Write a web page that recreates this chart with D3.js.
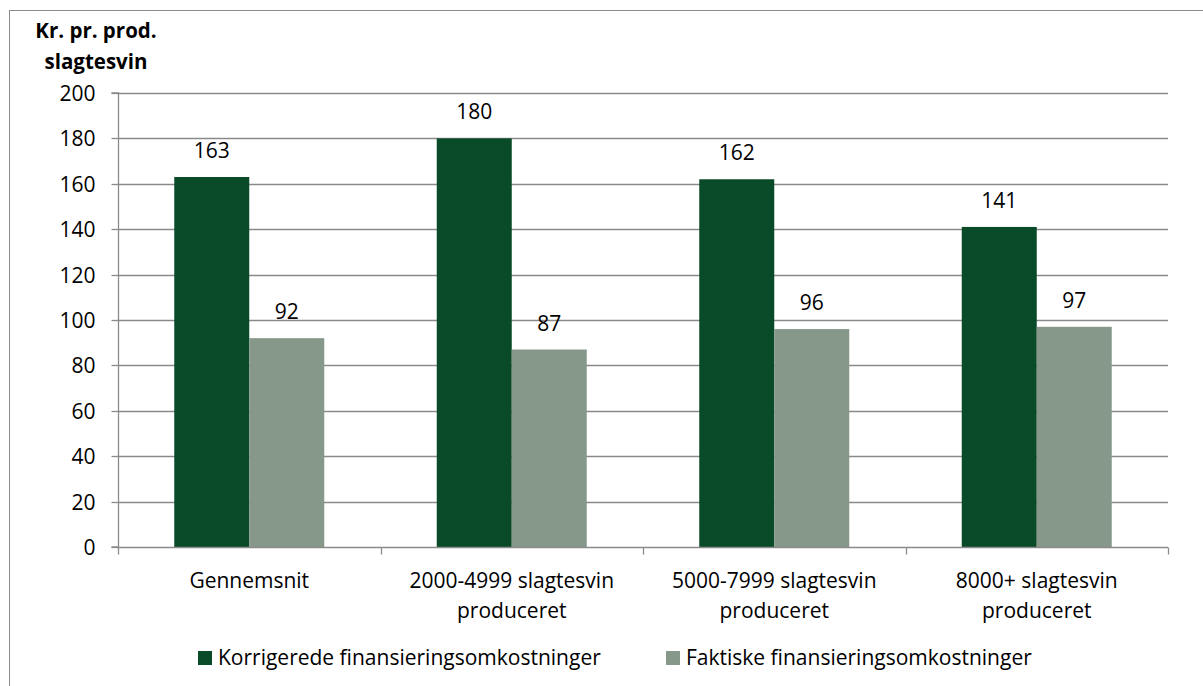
<!DOCTYPE html>
<html><head><meta charset="utf-8">
<script src="https://cdn.jsdelivr.net/npm/d3@7"></script>
<style>body{margin:0;background:#fff}svg{display:block}text{font-family:"Open Sans",Lato,sans-serif;fill:#000}</style>
</head><body>
<svg id="c" width="1203" height="686"></svg>
<script>
const categories = [["Gennemsnit"], ["2000-4999 slagtesvin", "produceret"], ["5000-7999 slagtesvin", "produceret"], ["8000+ slagtesvin", "produceret"]];
const seriesNames = ["Korrigerede finansieringsomkostninger", "Faktiske finansieringsomkostninger"];
const korrigerede = [163, 180, 162, 141];
const faktiske = [92, 87, 96, 97];
const yTicks = [0, 20, 40, 60, 80, 100, 120, 140, 160, 180, 200];
const colors = ["#094b28", "#869889"];

const FS = "21px";
const svg = d3.select("#c");
const m = {l:118, r:1168, t:93, b:547};
svg.append("rect").attr("x",9.5).attr("y",10.5).attr("width",1300).attr("height",800)
  .attr("fill","none").attr("stroke","#8c8c8c").attr("stroke-width",1);

const y = d3.scaleLinear().domain([0,200]).range([m.b,m.t]);
const x0 = d3.scaleBand().domain(d3.range(categories.length)).range([m.l,m.r]).paddingInner(0).paddingOuter(0);
const x1 = d3.scaleBand().domain([0,1]).range([0,x0.bandwidth()]).paddingOuter(0.75).paddingInner(0);

// gridlines
svg.append("g").selectAll("line").data(yTicks.filter(d=>d>0)).join("line")
  .attr("x1",m.l).attr("x2",m.r).attr("y1",d=>Math.round(y(d))+0.5).attr("y2",d=>Math.round(y(d))+0.5)
  .attr("stroke","#8a8a8a").attr("stroke-width",1.3);

// y axis
const ya = svg.append("g").attr("transform",`translate(${m.l+0.5},0)`)
  .call(d3.axisLeft(y).tickValues(yTicks).tickSize(7).tickPadding(16));
ya.select(".domain").attr("stroke","#8a8a8a").attr("stroke-width",1.3).attr("d",`M-7,${m.b}H0V${m.t}H-7`);
ya.selectAll(".tick line").attr("stroke","#8a8a8a").attr("stroke-width",1.3);
ya.selectAll(".tick text").style("font-size",FS).attr("fill","#000").attr("dy","0.35em");
ya.selectAll(".tick").attr("transform",d=>`translate(0,${Math.round(y(d))+0.5})`);

// bars
const series = [korrigerede, faktiske];
series.forEach((vals,si)=>{
  svg.append("g").selectAll("rect").data(vals).join("rect")
    .attr("x",(d,i)=>x0(i)+x1(si)).attr("width",x1.bandwidth())
    .attr("y",d=>y(d)).attr("height",d=>m.b-y(d)).attr("fill",colors[si]);
  svg.append("g").selectAll("text").data(vals).join("text")
    .attr("x",(d,i)=>x0(i)+x1(si)+x1.bandwidth()/2).attr("y",d=>y(d)-19)
    .attr("text-anchor","middle").style("font-size",FS).text(d=>d);
});

// x axis
const xa = svg.append("g").attr("transform",`translate(0,${m.b+0.5})`);
xa.append("line").attr("x1",m.l).attr("x2",m.r).attr("stroke","#8a8a8a").attr("stroke-width",1.3);
const bounds = d3.range(categories.length+1).map(i=>m.l + i*x0.step());
xa.selectAll(".tk").data(bounds).join("line").attr("class","tk")
  .attr("x1",d=>Math.round(d)+0.5).attr("x2",d=>Math.round(d)+0.5).attr("y1",0).attr("y2",7)
  .attr("stroke","#8a8a8a").attr("stroke-width",1.3);
categories.forEach((lines,i)=>{
  const t = xa.append("text").attr("text-anchor","middle").style("font-size",FS)
    .attr("x",x0(i)+x0.bandwidth()/2).attr("y",40);
  lines.forEach((s,j)=>t.append("tspan").attr("x",x0(i)+x0.bandwidth()/2).attr("dy",j?30:0).text(s));
});

// y title
const tt = svg.append("text").attr("text-anchor","middle").style("font-size","20.5px").style("font-weight","bold");
tt.append("tspan").attr("x",96).attr("y",38).text("Kr. pr. prod.");
tt.append("tspan").attr("x",96).attr("y",69).text("slagtesvin");

// legend
const leg = [{x:198, t:seriesNames[0], c:colors[0]},{x:666, t:seriesNames[1], c:colors[1]}];
leg.forEach(l=>{
  svg.append("rect").attr("x",l.x).attr("y",651).attr("width",14).attr("height",14).attr("fill",l.c);
  svg.append("text").attr("x",l.x+20).attr("y",665).style("font-size",FS).text(l.t);
});
</script>
</body></html>
